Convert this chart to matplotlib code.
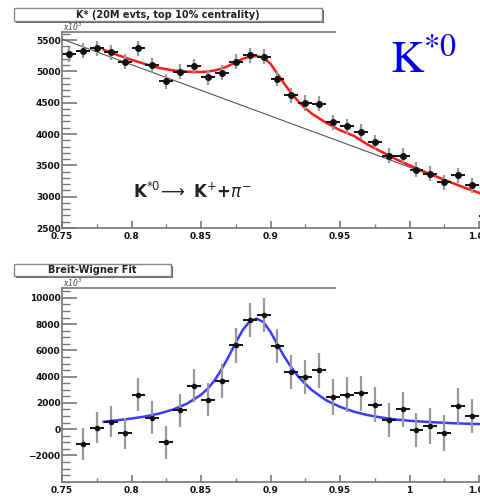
import numpy as np
import matplotlib
matplotlib.use("Agg")
import matplotlib.pyplot as plt
from matplotlib.patches import Rectangle

plt.rcParams["font.family"] = ["DejaVu Sans"]
plt.rcParams["mathtext.fontset"] = "dejavusans"

# ---- data ----
top_x = [0.755, 0.765, 0.775, 0.785, 0.795, 0.805, 0.815, 0.825, 0.835, 0.845,
         0.855, 0.865, 0.875, 0.885, 0.895, 0.905, 0.915, 0.925, 0.935, 0.945,
         0.955, 0.965, 0.975, 0.985, 0.995, 1.005, 1.015, 1.025, 1.035, 1.045, 1.055]
top_y = [5276, 5329, 5367, 5305, 5152, 5367, 5099, 4840, 4992, 5083,
         4902, 4976, 5152, 5260, 5233, 4885, 4619, 4495, 4485, 4191,
         4122, 4040, 3870, 3650, 3657, 3430, 3364, 3229, 3345, 3180, 2696]
top_err = [120] * len(top_x)

fit_x = [0.780, 0.790, 0.800, 0.810, 0.820, 0.830, 0.840, 0.850, 0.855, 0.860,
         0.865, 0.870, 0.875, 0.880, 0.885, 0.890, 0.895, 0.900, 0.905, 0.910,
         0.915, 0.920, 0.925, 0.930, 0.940, 0.950, 0.960, 0.970, 0.980, 0.990,
         1.000, 1.010, 1.020, 1.030, 1.040, 1.050, 1.060]
fit_y = [5345, 5260, 5185, 5115, 5055, 5015, 4995, 4990, 4998, 5015,
         5045, 5090, 5145, 5200, 5235, 5245, 5215, 5120, 4960, 4800,
         4650, 4520, 4410, 4320, 4180, 4060, 3970, 3830, 3715, 3600,
         3500, 3405, 3315, 3225, 3140, 3060, 2980]

bg_x = [0.75, 1.06]
bg_y = [5515, 2980]

bw_x = [0.765, 0.775, 0.785, 0.795, 0.805, 0.815, 0.825, 0.835, 0.845, 0.855,
        0.865, 0.875, 0.885, 0.895, 0.905, 0.915, 0.925, 0.935, 0.945, 0.955,
        0.965, 0.975, 0.985, 0.995, 1.005, 1.015, 1.025, 1.035, 1.045]
bw_y = [-1124, 127, 577, -322, 2624, 877, -997, 1424, 3325, 2249,
        3673, 6372, 8321, 8721, 6327, 4325, 4003, 4475, 2451, 2624,
        2729, 1874, 675, 1499, -50, 250, -300, 1750, 1000]
bw_err = [1200, 1200, 1200, 1200, 1250, 1250, 1250, 1250, 1250, 1250,
          1300, 1300, 1300, 1300, 1300, 1300, 1300, 1350, 1350, 1350,
          1350, 1300, 1300, 1300, 1300, 1350, 1350, 1350, 1300]

curve_x = [0.780, 0.790, 0.800, 0.810, 0.820, 0.830, 0.840, 0.850, 0.855, 0.860,
           0.865, 0.870, 0.875, 0.880, 0.885, 0.890, 0.895, 0.900, 0.905, 0.910,
           0.915, 0.920, 0.925, 0.930, 0.940, 0.950, 0.960, 0.970, 0.980, 0.990,
           1.000, 1.010, 1.020, 1.030, 1.040, 1.050, 1.060]
curve_y = [560, 680, 810, 970, 1190, 1500, 1950, 2620, 3100, 3750,
           4600, 5550, 6600, 7550, 8200, 8420, 8150, 7400, 6450, 5500,
           4700, 4000, 3450, 2950, 2200, 1700, 1330, 1070, 880, 740,
           640, 570, 510, 460, 420, 390, 370]

x_ticks = [0.75, 0.8, 0.85, 0.9, 0.95, 1.0, 1.05]
x_tick_labels = ["0.75", "0.8", "0.85", "0.9", "0.95", "1", "1.05"]
top_yticks = [2500, 3000, 3500, 4000, 4500, 5000, 5500]
bot_yticks = [-2000, 0, 2000, 4000, 6000, 8000, 10000]

W, H = 480, 498
fig = plt.figure(figsize=(W / 100, H / 100), dpi=100)


def px(x0, y0, w, h):
    # pixel box (from top-left) -> figure fraction rect
    return [x0 / W, 1 - (y0 + h) / H, w / W, h / H]


axis_col = "#777777"


def style_axes(ax, ylim, yticks, yminor):
    ax.set_xlim(0.75, 1.055)
    ax.set_ylim(*ylim)
    ax.set_xticks(x_ticks)
    ax.set_xticklabels(x_tick_labels)
    ax.set_xticks(np.arange(0.775, 1.06, 0.05), minor=True)
    ax.set_yticks(yticks)
    ax.set_yticks(np.arange(ylim[0] - ylim[0] % yminor, ylim[1], yminor), minor=True)
    ax.tick_params(axis="both", which="both", direction="in", colors=axis_col,
                   labelcolor="#111111", labelsize=6.5)
    ax.tick_params(axis="y", which="major", length=11, width=1.2, pad=1)
    ax.tick_params(axis="y", which="minor", length=6, width=1.0)
    ax.tick_params(axis="x", which="major", length=5, width=1.2, pad=3)
    ax.tick_params(axis="x", which="minor", length=3, width=1.0)
    for lab in ax.get_xticklabels() + ax.get_yticklabels():
        lab.set_fontweight("bold")
    for s in ("top", "right"):
        ax.spines[s].set_visible(False)
    for s in ("left", "bottom"):
        ax.spines[s].set_color(axis_col)
        ax.spines[s].set_linewidth(1.2)
    # partial frame top line
    ax.plot([0, 0.644], [1, 1], transform=ax.transAxes, color=axis_col,
            lw=1.2, clip_on=False)


# ---- top panel ----
ax1 = fig.add_axes(px(62, 32, 424, 196))
style_axes(ax1, (2500, 5628), top_yticks, 100)
ax1.plot(bg_x, bg_y, color="#555555", lw=0.8)
ax1.plot(fit_x, fit_y, color="#ff1a1a", lw=1.8)
ax1.errorbar(top_x, top_y, yerr=top_err, fmt="none", ecolor="#999999", elinewidth=1.6)
ax1.errorbar(top_x, top_y, xerr=0.005, fmt="o", color="#111111", ms=4, elinewidth=1.4)
ax1.text(0.801, 2975, r"K$^{*0}\!\longrightarrow$ K$^{+}$+$\pi^{-}$", fontsize=12,
         fontweight="bold", color="#222222", va="baseline")

# ---- bottom panel ----
ax2 = fig.add_axes(px(62, 288, 424, 193.7))
style_axes(ax2, (-3750, 10750), bot_yticks, 500)
ax2.plot(curve_x, curve_y, color="#3a3aff", lw=1.8)
ax2.errorbar(bw_x, bw_y, yerr=bw_err, fmt="none", ecolor="#999999", elinewidth=1.6)
ax2.errorbar(bw_x, bw_y, xerr=0.005, fmt="o", color="#111111", ms=3, elinewidth=1.4)

# multiplier labels
fig.text(63 / W, 1 - 31 / H, r"x10$^{3}$", fontsize=5.5, color="#444444", style="italic")
fig.text(63 / W, 1 - 287 / H, r"x10$^{3}$", fontsize=5.5, color="#444444", style="italic")


# ROOT-style title boxes with shadow
def title_box(x0, y0, w, h, text, size):
    fig.add_artist(Rectangle((x0 / W + 2 / W, 1 - (y0 + h + 2) / H), w / W, h / H,
                             transform=fig.transFigure, facecolor="#666666", edgecolor="none"))
    fig.add_artist(Rectangle((x0 / W, 1 - (y0 + h) / H), w / W, h / H,
                             transform=fig.transFigure, facecolor="white",
                             edgecolor="#888888", lw=1.0))
    fig.text((x0 + w / 2) / W, 1 - (y0 + h / 2) / H, text, fontsize=size,
             ha="center", va="center", color="#222222", fontweight="bold")


title_box(14, 8, 308, 13, "K* (20M evts, top 10% centrality)", 7)
title_box(14, 264, 157, 12, "Breit-Wigner Fit", 7)

fig.text(390 / W, 1 - 73 / H, r"$\mathrm{K}^{*0}$", fontsize=33, color="#0000ee",
         va="baseline", math_fontfamily="stix")

fig.savefig("out.png", dpi=100)
